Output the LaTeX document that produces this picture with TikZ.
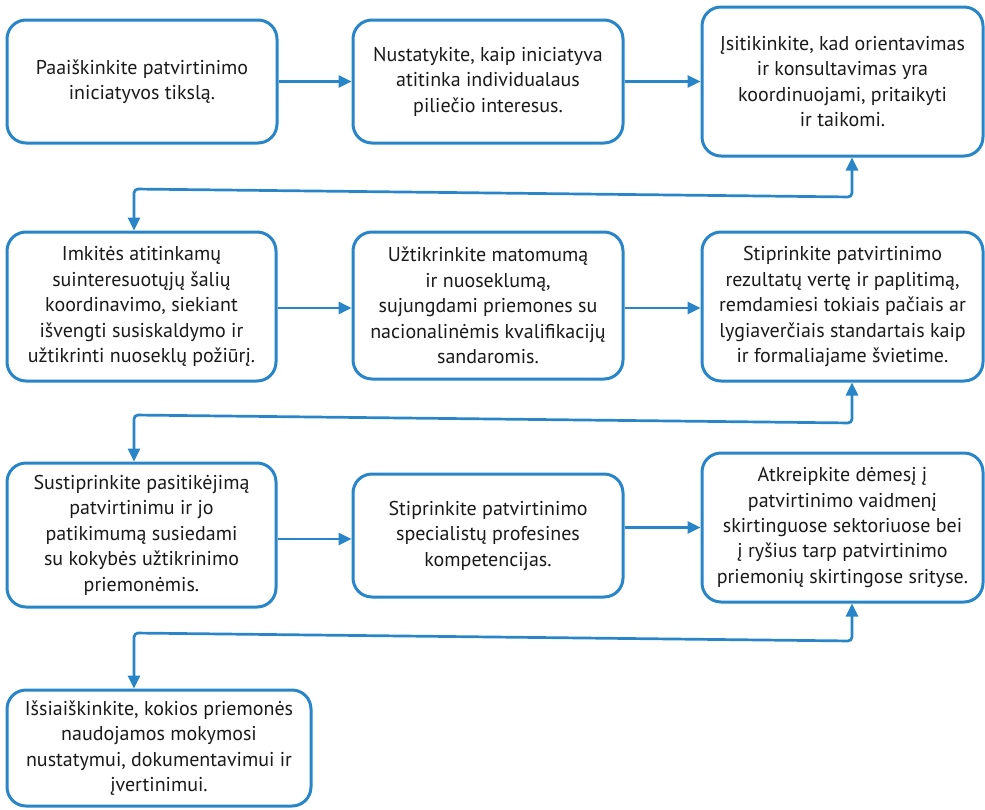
\documentclass[tikz,border=0pt]{standalone}
\usepackage{fontspec}
\setmainfont{PT Sans}
\usetikzlibrary{arrows.meta}
\definecolor{flowblue}{RGB}{40,133,200}
\definecolor{txt}{RGB}{26,26,26}
\tikzset{
  stepbox/.style={draw=flowblue, line width=3pt, rounded corners=19pt, fill=white,
    inner sep=0pt, align=center, text=txt, font=\fontsize{20}{25.5}\selectfont},
  conn/.style={draw=flowblue, line width=2.7pt, rounded corners=4pt,
    -{Triangle[length=13pt,width=12pt]}},
  dconn/.style={draw=flowblue, line width=2.7pt, rounded corners=4pt,
    {Triangle[length=13pt,width=12pt]}-{Triangle[length=13pt,width=12pt]}}
}
\begin{document}
\begin{tikzpicture}[x=1pt,y=-1pt]
\useasboundingbox (0,0) rectangle (985,809);
\node[stepbox, minimum width=270pt, minimum height=123pt] (A) at (142,81.5)
  {Paaiškinkite patvirtinimo\\iniciatyvos tikslą.};
\node[stepbox, minimum width=270pt, minimum height=123pt] (B) at (488,81.5)
  {Nustatykite, kaip iniciatyva\\atitinka individualaus\\piliečio interesus.};
\node[stepbox, minimum width=281pt, minimum height=149pt] (C) at (842.5,81.5)
  {Įsitikinkite, kad orientavimas\\ir konsultavimas yra\\koordinuojami, pritaikyti\\ir taikomi.};
\node[stepbox, minimum width=269pt, minimum height=149pt] (D) at (141.5,306.5)
  {Imkitės atitinkamų\\suinteresuotųjų šalių\\koordinavimo, siekiant\\išvengti susiskaldymo ir\\užtikrinti nuoseklų požiūrį.};
\node[stepbox, minimum width=270pt, minimum height=147pt] (E) at (488,305.5)
  {Užtikrinkite matomumą\\ir nuoseklumą,\\sujungdami priemones su\\nacionalinėmis kvalifikacijų\\sandaromis.};
\node[stepbox, minimum width=281pt, minimum height=149pt] (F) at (842.5,306.5)
  {Stiprinkite patvirtinimo\\rezultatų vertę ir paplitimą,\\remdamiesi tokiais pačiais ar\\lygiaverčiais standartais kaip\\ir formaliajame švietime.};
\node[stepbox, minimum width=269pt, minimum height=144pt] (G) at (141.5,535)
  {Sustiprinkite pasitikėjimą\\patvirtinimu ir jo\\patikimumą susiedami\\su kokybės užtikrinimo\\priemonėmis.};
\node[stepbox, minimum width=270pt, minimum height=123pt] (H) at (488,535.5)
  {Stiprinkite patvirtinimo\\specialistų profesines\\kompetencijas.};
\node[stepbox, minimum width=281pt, minimum height=149pt] (I) at (842.5,527.5)
  {Atkreipkite dėmesį į\\patvirtinimo vaidmenį\\skirtinguose sektoriuose bei\\į ryšius tarp patvirtinimo\\priemonių skirtingose srityse.};
\node[stepbox, minimum width=304pt, minimum height=116pt] (J) at (159,748)
  {Išsiaiškinkite, kokios priemonės\\naudojamos mokymosi\\nustatymui, dokumentavimui ir\\įvertinimui.};
% horizontal arrows
\draw[conn] (A.east) -- (B.west);
\draw[conn] (B.east) -- (C.west);
\draw[conn] (D.east |- 0,308) -- (E.west |- 0,308);
\draw[conn] (E.east |- 0,308) -- (F.west |- 0,308);
\draw[conn] (G.east |- 0,539) -- (H.west |- 0,539);
\draw[conn] (H.east |- I.west) -- (I.west);
% return connectors
\coordinate (c1) at (852,197); \coordinate (c2) at (134,189);
\draw[dconn] (c1 |- C.south) -- (c1) -- (c2) -- (c2 |- D.north);
\coordinate (f1) at (852,423); \coordinate (f2) at (134,415);
\draw[dconn] (f1 |- F.south) -- (f1) -- (f2) -- (f2 |- G.north);
\coordinate (i1) at (852,641); \coordinate (i2) at (134,633);
\draw[dconn] (i1 |- I.south) -- (i1) -- (i2) -- (i2 |- J.north);
\end{tikzpicture}
\end{document}
